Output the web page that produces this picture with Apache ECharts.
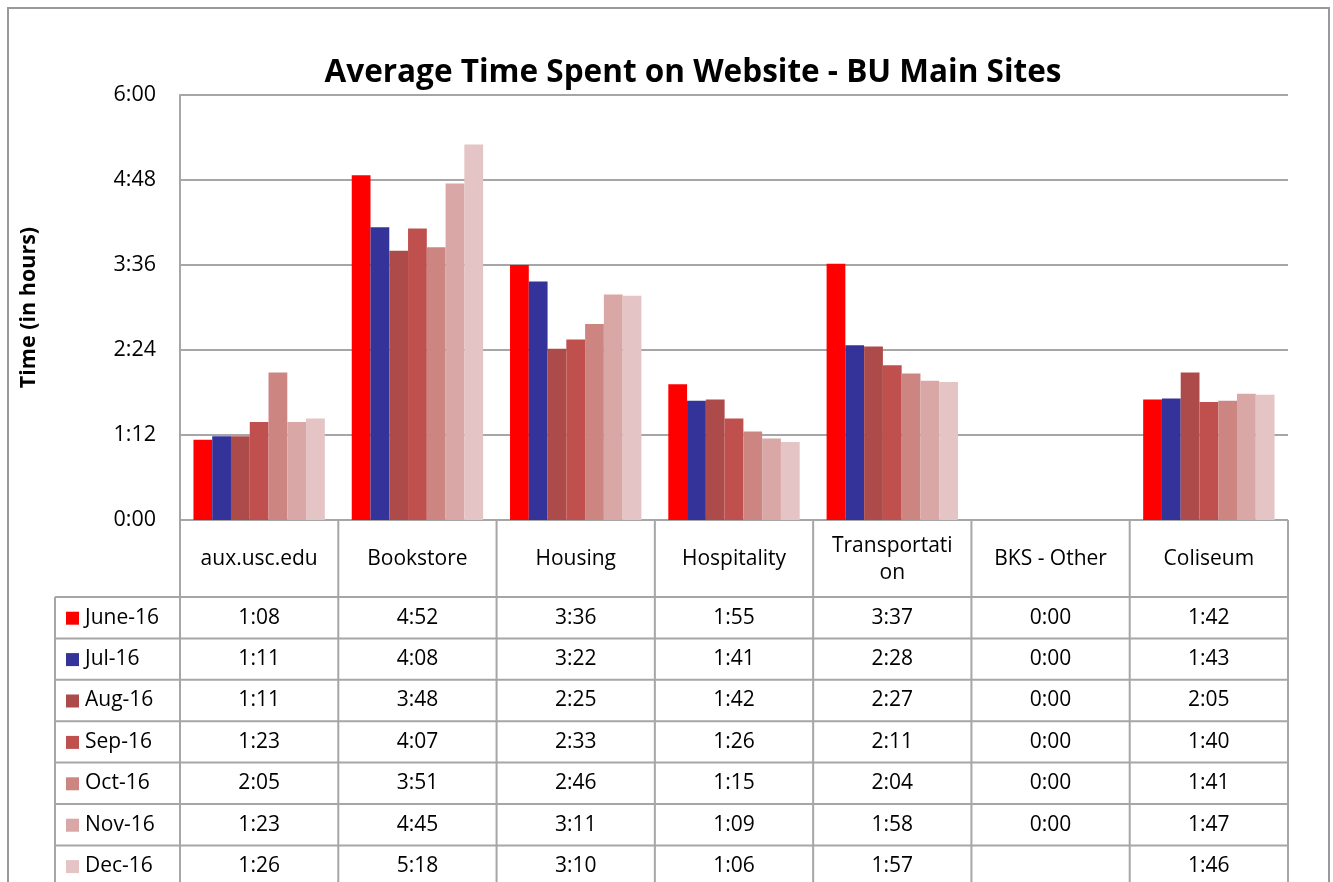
<!DOCTYPE html>
<html>
<head>
<meta charset="utf-8">
<script src="https://cdn.jsdelivr.net/npm/echarts@6/dist/echarts.min.js"></script>
<style>
  html, body { margin: 0; padding: 0; background: #fff; }
  #main { width: 1333px; height: 882px; }
</style>
</head>
<body>
<div id="main"></div>
<script>
// sites on the x axis
var categories = ['aux.usc.edu', 'Bookstore', 'Housing', 'Hospitality', 'Transportation', 'BKS - Other', 'Coliseum'];
// header text as it wraps in the table
var headerLabels = ['aux.usc.edu', 'Bookstore', 'Housing', 'Hospitality', 'Transportati\non', 'BKS - Other', 'Coliseum'];
var months = ['June-16', 'Jul-16', 'Aug-16', 'Sep-16', 'Oct-16', 'Nov-16', 'Dec-16'];
// values in minutes
var june16 = [68, 292, 216, 115, 217, 0, 102];
var jul16  = [71, 248, 202, 101, 148, 0, 103];
var aug16  = [71, 228, 145, 102, 147, 0, 125];
var sep16  = [83, 247, 153, 86, 131, 0, 100];
var oct16  = [125, 231, 166, 75, 124, 0, 101];
var nov16  = [83, 285, 191, 69, 118, 0, 107];
var dec16  = [86, 318, 190, 66, 117, null, 106];
var seriesData = [june16, jul16, aug16, sep16, oct16, nov16, dec16];
var colors = ['#FF0000', '#333399', '#AD4B4A', '#C0504D', '#CD8582', '#D9A7A6', '#E4C4C4'];
// y ticks: 0:00 .. 6:00 every 1:12
var yMax = 360, yStep = 72;

function fmt(m) {
  if (m === null || m === undefined) return '';
  var h = Math.floor(m / 60), mm = m % 60;
  return h + ':' + (mm < 10 ? '0' + mm : mm);
}

var FONT = '"Open Sans", "Liberation Sans", sans-serif';
var lineCol = '#A6A6A6';

// grid position (plot area)
var gx = 180, gy = 95, gr = 1288, gb = 520;
var cellW = (gr - gx) / categories.length;
var headH = 77, rowH = 41.4;
var legX = 55;

var chart = echarts.init(document.getElementById('main'));

var graphics = [];
// outer frame
graphics.push({ type: 'rect', shape: { x: 8, y: 8, width: 1321, height: 900 }, style: { fill: null, stroke: '#999', lineWidth: 2 }, silent: true });

function hline(x1, x2, y) {
  graphics.push({ type: 'line', shape: { x1: x1, y1: y, x2: x2, y2: y }, style: { stroke: lineCol, lineWidth: 2 }, silent: true });
}
function vline(x, y1, y2) {
  graphics.push({ type: 'line', shape: { x1: x, y1: y1, x2: x, y2: y2 }, style: { stroke: lineCol, lineWidth: 2 }, silent: true });
}

var tableBottom = 900;
hline(gx, gr, gb);
var y0 = gb + headH;
hline(legX, gr, y0);
for (var r = 1; r < months.length; r++) hline(legX, gr, y0 + r * rowH);
vline(legX, y0, tableBottom);
vline(gx, gb, tableBottom);
for (var c = 1; c <= categories.length; c++) vline(gx + c * cellW, gb, tableBottom);

// header row
headerLabels.forEach(function (name, i) {
  graphics.push({
    type: 'text', silent: true,
    style: { text: name, x: gx + (i + 0.5) * cellW, y: gb + headH / 2 + 1, align: 'center', verticalAlign: 'middle', font: '21px ' + FONT, fill: '#000', lineHeight: 27 }
  });
});

// rows
months.forEach(function (m, r) {
  var cy = y0 + (r + 0.5) * rowH;
  graphics.push({ type: 'rect', silent: true, shape: { x: 66, y: cy - 6, width: 13, height: 13 }, style: { fill: colors[r] } });
  graphics.push({ type: 'text', silent: true, style: { text: m, x: 85, y: cy, align: 'left', verticalAlign: 'middle', font: '21px ' + FONT, fill: '#000' } });
  seriesData[r].forEach(function (v, i) {
    graphics.push({ type: 'text', silent: true, style: { text: fmt(v), x: gx + (i + 0.5) * cellW, y: cy, align: 'center', verticalAlign: 'middle', font: '21px ' + FONT, fill: '#000' } });
  });
});

var option = {
  backgroundColor: '#fff',
  animation: false,
  title: {
    text: 'Average Time Spent on Website - BU Main Sites',
    left: 688, top: 52, textAlign: 'center',
    textStyle: { fontFamily: FONT, fontSize: 31.5, fontWeight: 'bold', color: '#000' }
  },
  grid: { left: gx, top: gy, right: 1333 - gr, bottom: 882 - gb, containLabel: false },
  xAxis: {
    type: 'category', data: categories,
    axisLine: { show: false }, axisTick: { show: false }, axisLabel: { show: false }
  },
  yAxis: {
    type: 'value', min: 0, max: yMax, interval: yStep,
    name: 'Time (in hours)', nameLocation: 'middle', nameGap: 140, nameRotate: 90,
    nameTextStyle: { fontFamily: FONT, fontSize: 21.5, fontWeight: 'bold', color: '#000' },
    axisLine: { show: true, lineStyle: { color: lineCol, width: 2 } },
    axisTick: { show: false },
    axisLabel: { formatter: function (v) { return fmt(v); }, fontFamily: FONT, fontSize: 21.5, color: '#000', margin: 24 },
    splitLine: { lineStyle: { color: lineCol, width: 2 } }
  },
  series: months.map(function (m, i) {
    return {
      name: m, type: 'bar', data: seriesData[i],
      itemStyle: { color: colors[i] },
      barGap: '0%', barCategoryGap: '17%'
    };
  }),
  graphic: graphics
};

chart.setOption(option);
</script>
</body>
</html>
